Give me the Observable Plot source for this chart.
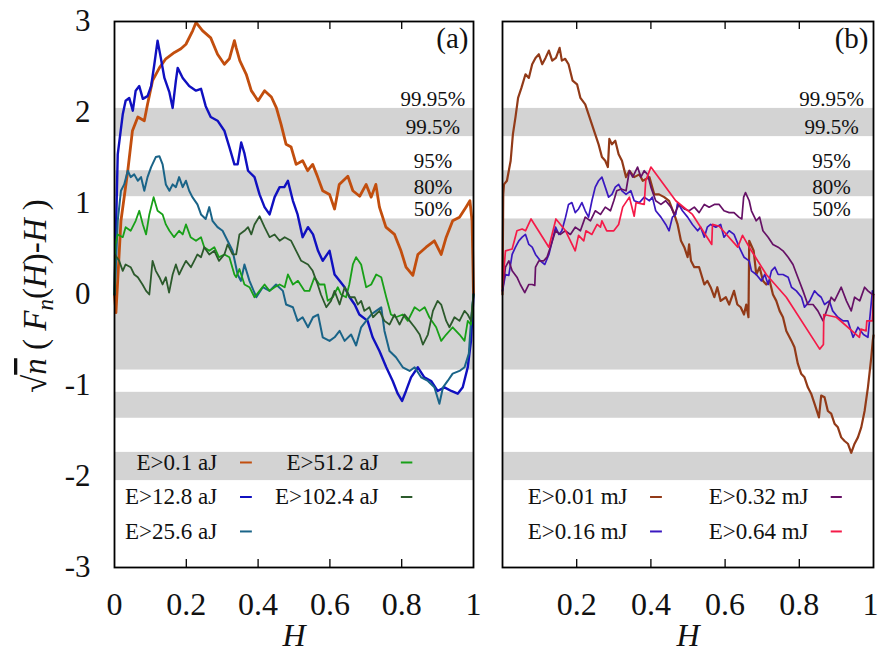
<!DOCTYPE html>
<html><head><meta charset="utf-8">
<script src="https://cdn.jsdelivr.net/npm/d3@7"></script>
<script src="https://cdn.jsdelivr.net/npm/@observablehq/plot@0.6"></script>
<style>
body{margin:0;background:#fff;}
#wrap{position:relative;width:879px;height:653px;overflow:hidden;background:#fff;}
#wrap svg{position:absolute;top:0;}
#wrap svg, #wrap svg text, #wrap svg tspan{font-family:"Liberation Serif","Times New Roman",Times,serif !important;}
</style></head><body><div id="wrap"></div>
<script>
// ---------- data ----------
const bandEdges = [[-0.83, 0.83], [1.075, 1.36], [-1.36, -1.075], [1.735, 2.045], [-2.045, -1.735]];
const levelLabels = ["99.95%", "99.5%", "95%", "80%", "50%"];
const levelValues = [2.045, 1.735, 1.36, 1.075, 0.83];
const yTicks = [-3, -2, -1, 0, 1, 2, 3];
const xTicksA = [0, 0.2, 0.4, 0.6, 0.8, 1];
const xTicksB = [0.2, 0.4, 0.6, 0.8];
const xTickLastB = [1];
const innerTicks = [0.2, 0.4, 0.6, 0.8];

const labelsA = ["E>0.1 aJ", "E>12.8 aJ", "E>25.6 aJ", "E>51.2 aJ", "E>102.4 aJ"];
const labelsB = ["E>0.01 mJ", "E>0.16 mJ", "E>0.32 mJ", "E>0.64 mJ"];

const a_0_1 = [[0,0],[0.004,-0.2],[0.018,0.81],[0.037,1.36],[0.05,1.80],[0.065,1.95],[0.083,1.91],[0.092,2.09],[0.106,2.35],[0.125,2.49],[0.143,2.59],[0.167,2.66],[0.185,2.70],[0.199,2.75],[0.218,2.90],[0.227,2.99],[0.245,2.90],[0.268,2.82],[0.287,2.64],[0.306,2.53],[0.320,2.59],[0.334,2.79],[0.339,2.71],[0.349,2.57],[0.367,2.42],[0.381,2.24],[0.40,2.13],[0.418,2.24],[0.437,2.17],[0.451,2.05],[0.464,1.87],[0.478,1.65],[0.492,1.62],[0.506,1.43],[0.524,1.47],[0.538,1.36],[0.552,1.43],[0.566,1.29],[0.580,1.14],[0.599,1.10],[0.613,0.94],[0.626,1.21],[0.650,1.30],[0.664,1.14],[0.683,1.08],[0.701,1.21],[0.715,1.07],[0.728,1.21],[0.738,0.96],[0.756,0.74],[0.780,0.66],[0.798,0.48],[0.812,0.30],[0.831,0.21],[0.845,0.44],[0.868,0.52],[0.891,0.59],[0.910,0.44],[0.924,0.63],[0.942,0.81],[0.961,0.85],[0.979,0.96],[0.990,1.03],[0.996,0.81],[1,0]];
const a_12_8 = [[0,0],[0.009,1.54],[0.023,1.98],[0.031,2.13],[0.041,2.16],[0.051,2.02],[0.059,2.24],[0.069,2.29],[0.079,2.15],[0.092,2.18],[0.102,2.29],[0.111,2.53],[0.120,2.79],[0.129,2.60],[0.139,2.38],[0.153,2.22],[0.162,2.05],[0.171,2.35],[0.176,2.49],[0.190,2.38],[0.208,2.29],[0.227,2.24],[0.241,2.26],[0.254,2.07],[0.268,1.95],[0.287,1.91],[0.306,1.80],[0.320,1.62],[0.334,1.43],[0.343,1.43],[0.353,1.67],[0.362,1.55],[0.372,1.36],[0.390,1.29],[0.404,1.10],[0.418,0.96],[0.432,0.88],[0.446,1.07],[0.460,1.18],[0.473,1.18],[0.483,1.25],[0.497,1.03],[0.510,0.88],[0.524,0.63],[0.539,0.74],[0.553,0.66],[0.567,0.48],[0.580,0.37],[0.599,0.48],[0.613,0.22],[0.627,0.15],[0.641,0.08],[0.655,-0.03],[0.669,-0.11],[0.682,-0.22],[0.705,-0.29],[0.719,-0.47],[0.738,-0.62],[0.757,-0.80],[0.775,-0.95],[0.789,-1.09],[0.801,-1.17],[0.812,-1.06],[0.826,-0.91],[0.845,-0.80],[0.863,-0.91],[0.882,-0.95],[0.900,-1.06],[0.919,-1.02],[0.938,-1.06],[0.956,-1.09],[0.970,-1.02],[0.984,-0.80],[0.993,-0.51],[1,0]];
const a_25_6 = [[0,0],[0.002,0.15],[0.009,0.81],[0.018,1.14],[0.027,1.21],[0.037,1.36],[0.045,1.29],[0.055,1.32],[0.065,1.25],[0.074,1.29],[0.083,1.14],[0.092,1.29],[0.102,1.40],[0.115,1.51],[0.125,1.52],[0.134,1.43],[0.143,1.21],[0.153,1.14],[0.162,1.21],[0.171,1.18],[0.180,1.29],[0.190,1.18],[0.199,1.25],[0.208,1.14],[0.217,1.07],[0.231,0.99],[0.241,0.88],[0.254,0.83],[0.264,0.96],[0.273,0.81],[0.287,0.74],[0.301,0.70],[0.315,0.59],[0.329,0.48],[0.343,0.22],[0.352,0.15],[0.362,0.33],[0.376,0.15],[0.395,-0.03],[0.413,0.08],[0.432,0.04],[0.450,0.11],[0.469,0.04],[0.478,-0.11],[0.497,-0.14],[0.510,-0.29],[0.524,-0.25],[0.539,-0.36],[0.553,-0.25],[0.567,-0.22],[0.580,-0.47],[0.599,-0.51],[0.613,-0.47],[0.627,-0.40],[0.641,-0.51],[0.659,-0.44],[0.673,-0.56],[0.687,-0.36],[0.701,-0.29],[0.715,-0.22],[0.729,-0.18],[0.743,-0.14],[0.752,-0.40],[0.766,-0.62],[0.784,-0.69],[0.803,-0.80],[0.822,-0.84],[0.836,-0.80],[0.854,-0.91],[0.873,-0.95],[0.891,-1.02],[0.905,-1.20],[0.915,-1.02],[0.928,-0.95],[0.942,-0.87],[0.961,-0.84],[0.975,-0.80],[0.987,-0.65],[0.993,-0.29],[1,0]];
const a_51_2 = [[0,0],[0.002,0.55],[0.009,0.66],[0.023,0.63],[0.031,0.74],[0.045,0.70],[0.059,0.81],[0.069,0.92],[0.079,0.77],[0.088,0.66],[0.097,0.88],[0.109,1.07],[0.120,0.92],[0.134,0.88],[0.143,0.77],[0.153,0.70],[0.166,0.63],[0.180,0.70],[0.190,0.66],[0.199,0.77],[0.212,0.63],[0.227,0.59],[0.241,0.63],[0.250,0.52],[0.264,0.48],[0.278,0.52],[0.291,0.41],[0.306,0.44],[0.320,0.41],[0.334,0.22],[0.339,0.19],[0.348,0.28],[0.362,0.11],[0.376,0.08],[0.390,-0.03],[0.404,0.04],[0.418,0.11],[0.432,0.04],[0.446,0.08],[0.460,0.11],[0.474,0.08],[0.483,0.22],[0.497,0.11],[0.511,0.15],[0.529,0.04],[0.543,0.04],[0.557,0.19],[0.571,0.11],[0.585,0.11],[0.594,-0.07],[0.608,-0.03],[0.622,0.08],[0.631,0.0],[0.645,-0.03],[0.654,0.11],[0.664,0.33],[0.673,0.41],[0.687,0.33],[0.701,0.08],[0.715,0.11],[0.729,0.22],[0.743,0.19],[0.757,-0.03],[0.770,-0.22],[0.784,-0.25],[0.803,-0.22],[0.817,-0.29],[0.836,-0.14],[0.850,-0.18],[0.864,-0.14],[0.877,-0.25],[0.896,-0.36],[0.910,-0.51],[0.924,-0.44],[0.942,-0.36],[0.961,-0.44],[0.975,-0.51],[0.984,-0.29],[0.993,-0.33],[1,0]];
const a_102_4 = [[0,0],[0.001,0.44],[0.013,0.37],[0.023,0.26],[0.031,0.33],[0.045,0.30],[0.055,0.22],[0.065,0.19],[0.078,0.11],[0.088,0.04],[0.097,0.0],[0.106,0.37],[0.115,0.26],[0.125,0.19],[0.134,0.11],[0.143,0.19],[0.152,0.02],[0.162,0.22],[0.171,0.33],[0.180,0.22],[0.190,0.30],[0.199,0.37],[0.213,0.30],[0.222,0.37],[0.231,0.44],[0.241,0.41],[0.250,0.52],[0.264,0.44],[0.278,0.48],[0.291,0.37],[0.306,0.44],[0.315,0.55],[0.329,0.44],[0.339,0.44],[0.348,0.66],[0.362,0.70],[0.372,0.74],[0.381,0.66],[0.390,0.77],[0.404,0.86],[0.418,0.74],[0.432,0.63],[0.446,0.66],[0.460,0.59],[0.474,0.63],[0.492,0.59],[0.506,0.48],[0.520,0.37],[0.539,0.33],[0.552,0.26],[0.566,0.11],[0.575,0.0],[0.590,-0.14],[0.603,-0.07],[0.613,0.04],[0.627,-0.11],[0.641,0.08],[0.655,-0.03],[0.669,-0.03],[0.678,-0.11],[0.687,-0.07],[0.696,-0.18],[0.710,-0.14],[0.720,-0.25],[0.738,-0.18],[0.752,-0.29],[0.766,-0.33],[0.780,-0.22],[0.794,-0.33],[0.808,-0.22],[0.822,-0.29],[0.836,-0.36],[0.850,-0.44],[0.859,-0.55],[0.873,-0.44],[0.887,-0.18],[0.900,-0.07],[0.910,-0.11],[0.924,-0.29],[0.933,-0.36],[0.947,-0.25],[0.961,-0.29],[0.975,-0.18],[0.984,-0.22],[0.993,-0.29],[1,0]];

const b_0_01 = [[0,0],[0.002,1.10],[0.004,1.21],[0.012,1.25],[0.022,1.47],[0.028,1.76],[0.035,1.95],[0.042,2.16],[0.051,2.27],[0.062,2.42],[0.071,2.38],[0.080,2.53],[0.089,2.60],[0.098,2.64],[0.107,2.53],[0.116,2.60],[0.125,2.68],[0.134,2.57],[0.144,2.60],[0.154,2.71],[0.160,2.57],[0.169,2.59],[0.178,2.53],[0.189,2.35],[0.201,2.31],[0.210,2.16],[0.223,2.09],[0.232,1.98],[0.241,1.87],[0.250,1.76],[0.259,1.65],[0.268,1.51],[0.277,1.47],[0.284,1.40],[0.288,1.71],[0.295,1.65],[0.304,1.69],[0.313,1.54],[0.322,1.47],[0.333,1.29],[0.342,1.36],[0.355,1.29],[0.369,1.32],[0.378,1.25],[0.396,1.29],[0.409,1.10],[0.422,1.10],[0.436,1.07],[0.449,1.03],[0.463,0.88],[0.472,0.77],[0.481,0.59],[0.490,0.52],[0.499,0.41],[0.503,0.55],[0.508,0.37],[0.517,0.30],[0.530,0.30],[0.544,0.11],[0.552,0.15],[0.561,0.08],[0.571,-0.03],[0.579,0.08],[0.588,-0.07],[0.602,-0.03],[0.611,-0.11],[0.624,0.04],[0.633,-0.11],[0.642,-0.14],[0.651,-0.22],[0.657,-0.11],[0.663,-0.25],[0.665,0.59],[0.677,0.48],[0.684,0.22],[0.693,0.30],[0.702,0.15],[0.711,0.11],[0.720,0.15],[0.729,0.0],[0.738,-0.07],[0.747,-0.18],[0.756,-0.25],[0.765,-0.40],[0.779,-0.51],[0.787,-0.58],[0.796,-0.76],[0.805,-0.87],[0.814,-0.91],[0.823,-1.02],[0.832,-1.09],[0.841,-1.20],[0.853,-1.35],[0.859,-1.11],[0.868,-1.13],[0.877,-1.28],[0.886,-1.31],[0.895,-1.42],[0.904,-1.46],[0.913,-1.57],[0.922,-1.61],[0.931,-1.64],[0.940,-1.74],[0.949,-1.64],[0.958,-1.57],[0.967,-1.46],[0.976,-1.28],[0.985,-1.02],[0.994,-0.69],[0.998,-0.51],[1,-0.45]];
const b_0_16 = [[0,0.04],[0.008,0.22],[0.017,0.21],[0.026,0.44],[0.035,0.52],[0.044,0.59],[0.053,0.63],[0.062,0.66],[0.071,0.55],[0.080,0.52],[0.089,0.44],[0.102,0.37],[0.114,0.33],[0.125,0.44],[0.134,0.59],[0.143,0.74],[0.152,0.66],[0.160,0.70],[0.170,0.85],[0.178,0.99],[0.187,1.01],[0.196,0.90],[0.205,0.94],[0.214,1.01],[0.223,0.92],[0.232,0.85],[0.241,1.03],[0.250,1.18],[0.259,1.25],[0.268,1.29],[0.277,1.18],[0.286,1.07],[0.295,1.10],[0.304,1.18],[0.313,1.21],[0.322,1.14],[0.333,1.10],[0.346,1.14],[0.355,1.03],[0.369,1.01],[0.382,1.07],[0.396,1.03],[0.404,1.07],[0.413,0.92],[0.427,0.85],[0.440,0.77],[0.449,0.70],[0.458,0.85],[0.467,0.88],[0.472,1.01],[0.485,0.92],[0.499,0.85],[0.512,0.77],[0.526,0.70],[0.534,0.74],[0.544,0.63],[0.552,0.74],[0.561,0.77],[0.575,0.74],[0.588,0.77],[0.597,0.63],[0.611,0.70],[0.624,0.66],[0.638,0.52],[0.651,0.41],[0.665,0.37],[0.671,0.26],[0.684,0.22],[0.698,0.15],[0.707,0.22],[0.716,0.11],[0.725,0.26],[0.734,0.30],[0.743,0.22],[0.756,0.22],[0.770,0.19],[0.779,0.08],[0.792,0.04],[0.806,-0.03],[0.814,-0.14],[0.828,-0.07],[0.841,0.04],[0.850,0.0],[0.859,-0.03],[0.868,-0.11],[0.881,-0.07],[0.890,-0.18],[0.904,-0.25],[0.918,-0.29],[0.931,-0.29],[0.945,-0.47],[0.958,-0.36],[0.973,-0.44],[0.985,-0.47],[0.991,-0.22],[0.997,0.04],[1,0]];
const b_0_32 = [[0,0.04],[0.008,0.30],[0.017,0.37],[0.026,0.26],[0.039,0.19],[0.048,0.11],[0.060,0.02],[0.071,0.11],[0.080,0.11],[0.087,0.10],[0.089,0.30],[0.098,0.37],[0.111,0.37],[0.120,0.41],[0.129,0.52],[0.143,0.70],[0.156,0.66],[0.169,0.70],[0.183,0.66],[0.196,0.74],[0.210,0.70],[0.223,0.85],[0.237,0.81],[0.250,0.92],[0.264,0.88],[0.277,0.96],[0.291,0.92],[0.300,1.03],[0.308,1.14],[0.320,1.16],[0.333,1.14],[0.342,1.36],[0.351,1.29],[0.364,1.40],[0.373,1.29],[0.382,1.36],[0.391,1.32],[0.400,1.18],[0.413,1.03],[0.427,0.99],[0.440,1.03],[0.454,0.96],[0.463,0.88],[0.476,0.99],[0.490,0.94],[0.503,0.92],[0.517,0.96],[0.530,0.90],[0.544,0.99],[0.557,0.96],[0.571,0.99],[0.584,0.99],[0.597,0.92],[0.611,0.90],[0.624,0.90],[0.637,0.85],[0.645,0.83],[0.650,1.07],[0.655,1.12],[0.665,1.03],[0.671,0.92],[0.684,0.81],[0.693,0.85],[0.702,0.70],[0.716,0.63],[0.729,0.55],[0.743,0.52],[0.756,0.48],[0.770,0.41],[0.783,0.33],[0.796,0.19],[0.810,0.04],[0.823,-0.11],[0.837,-0.11],[0.850,-0.18],[0.864,-0.29],[0.877,-0.14],[0.886,-0.03],[0.895,-0.07],[0.913,0.08],[0.927,-0.07],[0.940,-0.18],[0.949,-0.03],[0.963,-0.07],[0.976,0.08],[0.985,0.04],[0.997,0.0],[1,0]];
const b_0_64 = [[0,0.08],[0.008,0.48],[0.026,0.50],[0.039,0.70],[0.053,0.72],[0.062,0.70],[0.077,0.83],[0.125,0.52],[0.144,0.83],[0.170,0.70],[0.196,0.48],[0.205,0.65],[0.219,0.59],[0.225,0.70],[0.241,0.66],[0.255,0.77],[0.264,0.74],[0.268,0.81],[0.281,0.70],[0.300,0.70],[0.313,0.77],[0.324,0.96],[0.342,1.07],[0.355,0.86],[0.360,1.01],[0.382,0.99],[0.386,1.25],[0.400,1.40],[0.467,1.03],[0.512,0.88],[0.564,0.55],[0.566,0.77],[0.584,0.75],[0.634,0.52],[0.647,0.65],[0.665,0.52],[0.711,0.22],[0.765,-0.03],[0.855,-0.60],[0.865,-0.55],[0.866,-0.22],[0.900,-0.25],[0.962,-0.47],[0.966,-0.38],[0.980,-0.40],[0.982,-0.29],[0.997,-0.29],[1,0]];

// ---------- styles ----------
const colorsA = ["#c24e0e", "#1010c0", "#1a6488", "#18a018", "#2c5a2c"];
const widthsA = [2.8, 2.4, 2.0, 1.8, 1.8];
const colorsB = ["#923a18", "#3a18c0", "#661166", "#f51a48"];
const widthsB = [2.2, 1.7, 1.7, 1.7];
const seriesA = [a_0_1, a_12_8, a_25_6, a_51_2, a_102_4];
const seriesB = [b_0_01, b_0_16, b_0_32, b_0_64];

const FONT = "Liberation Serif, Times New Roman, Times, serif";
const H = 653, MT = 21, MB = 86;
const plotH = H - MT - MB;
const tickLen = 8 * 6 / plotH; // 8px in y units

const bands = bandEdges.map(([lo, hi]) => ({lo, hi}));
const levels = levelLabels.map((t, i) => ({t, v: levelValues[i]}));

function commonMarks(series, colors, widths, tag) {
  return [
    Plot.rect(bands, {x1: 0, x2: 1, y1: "lo", y2: "hi", fill: "#d3d3d3"}),
    Plot.text(levels, {x: 0.887, y: "v", text: "t", dy: -9.5, fontSize: 21, fill: "#111"}),
    ...series.map((s, i) => Plot.line(s, {x: d => d[0], y: d => d[1], stroke: colors[i], strokeWidth: widths[i], strokeLinejoin: "round"})),
    Plot.ruleX(innerTicks, {y1: -3, y2: -3 + tickLen, stroke: "#000", strokeWidth: 1.3}),
    Plot.ruleX(innerTicks, {y1: 3, y2: 3 - tickLen, stroke: "#000", strokeWidth: 1.3}),
    Plot.frame({stroke: "#000", strokeWidth: 1.8}),
    Plot.text([tag], {frameAnchor: "top-right", dx: -5, dy: 6, fontSize: 29, fill: "#111"}),
    Plot.text(["H"], {frameAnchor: "bottom", lineAnchor: "middle", dy: 68, fontSize: 32, fontStyle: "italic", fill: "#111"})
  ];
}

function legendMarks(labels, colors, layout) {
  const entries = labels.map((t, i) => ({t, c: colors[i], ...layout(i)}));
  return [
    Plot.text(entries, {x: "tx", y: "y", text: "t", textAnchor: "end", fontSize: 23, fill: "#111"}),
    Plot.ruleY(entries, {x1: "s1", x2: "s2", y: "y", stroke: "c", strokeWidth: 2})
  ];
}

const rowY = [-1.846, -2.225, -2.604];
const colA = [{tx: 0.286, s1: 0.351, s2: 0.384}, {tx: 0.736, s1: 0.799, s2: 0.831}];
const colB = [{tx: 0.337, s1: 0.399, s2: 0.431}, {tx: 0.825, s1: 0.886, s2: 0.916}];

const plotA = Plot.plot({
  width: 487, height: H, marginLeft: 114, marginRight: 14, marginTop: MT, marginBottom: MB,
  style: {fontFamily: FONT, fontSize: "31px", color: "#111", background: "transparent"},
  x: {domain: [0, 1]}, y: {domain: [-3, 3]},
  marks: [
    ...commonMarks(seriesA, colorsA, widthsA, "(a)"),
    ...legendMarks(labelsA, colorsA, i => ({...colA[Math.floor(i / 3)], y: rowY[i % 3]})),
    Plot.axisX({ticks: xTicksA, tickFormat: d => String(d), tickSize: 0, tickPadding: 25, label: null, fontSize: 32}),
    Plot.axisY({ticks: yTicks, tickFormat: d => String(d), tickSize: 0, tickPadding: 24, label: null, fontSize: 31})
  ]
});

const plotB = Plot.plot({
  width: 392, height: H, marginLeft: 15, marginRight: 6, marginTop: MT, marginBottom: MB,
  style: {fontFamily: FONT, fontSize: "31px", color: "#111", background: "transparent"},
  x: {domain: [0, 1]}, y: {domain: [-3, 3], axis: null},
  marks: [
    ...commonMarks(seriesB, colorsB, widthsB, "(b)"),
    ...legendMarks(labelsB, colorsB, i => ({...colB[Math.floor(i / 2)], y: rowY[i % 2 + 1]})),
    Plot.axisX({ticks: xTicksB, tickFormat: d => String(d), tickSize: 0, tickPadding: 25, label: null, fontSize: 32}),
    Plot.text(xTickLastB, {x: d => d, frameAnchor: "bottom", lineAnchor: "top", dy: 25, dx: 5, textAnchor: "end", text: d => String(d), fontSize: 32, fill: "#111"})
  ]
});

const wrap = document.getElementById("wrap");
plotA.style.left = "0px";
plotB.style.left = "487px";
wrap.appendChild(plotA);
wrap.appendChild(plotB);

// y-axis title
const yl = d3.select(plotA).append("text")
  .attr("transform", `translate(46, ${MT + plotH / 2 + 2}) rotate(-90)`)
  .attr("text-anchor", "middle")
  .attr("font-family", FONT).attr("font-size", 33).attr("fill", "#111");
yl.append("tspan").text("\u221A");
yl.append("tspan").attr("font-style", "italic").style("text-decoration", "overline").text("n");
yl.append("tspan").text(" ( ");
yl.append("tspan").attr("font-style", "italic").text("F");
yl.append("tspan").attr("font-style", "italic").attr("font-size", 23).attr("dy", 7).text("n");
yl.append("tspan").attr("dy", -7).text("(");
yl.append("tspan").attr("font-style", "italic").text("H");
yl.append("tspan").text(")-");
yl.append("tspan").attr("font-style", "italic").text("H");
yl.append("tspan").text(" )");
</script></body></html>
